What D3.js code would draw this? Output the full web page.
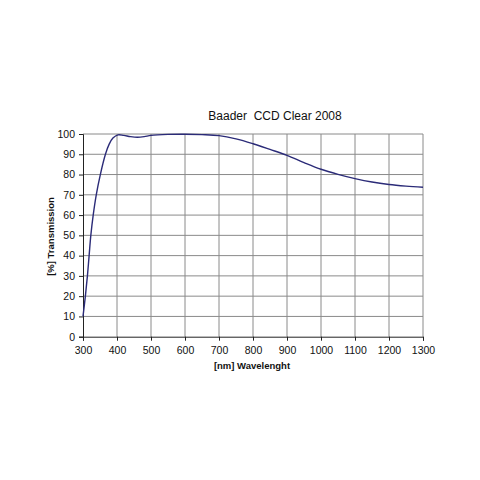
<!DOCTYPE html>
<html><head><meta charset="utf-8">
<script src="https://cdn.jsdelivr.net/npm/d3@7"></script>
<style>body{margin:0;background:#fff}svg{display:block}</style>
</head><body>
<script>
const wavelength = [300,307,313,318,323,330,339,351,366,377,388,403,420,440,460,480,500,550,600,650,700,750,800,850,900,950,1000,1050,1100,1150,1200,1250,1300];
const transmission = [10,20,30,40,50,60,70,80,90,95,98,99.6,99.3,98.7,98.4,98.7,99.3,99.8,99.9,99.7,99.2,97.6,95.2,92.4,89.5,85.9,82.6,80.1,78,76.3,75.1,74.3,73.7];
const xTicks = [300,400,500,600,700,800,900,1000,1100,1200,1300];
const yTicks = [0,10,20,30,40,50,60,70,80,90,100];
const title = "Baader  CCD Clear 2008";
const xLabel = "[nm] Wavelenght";
const yLabel = "[%] Transmission";

const W=480,H=480;
const svg=d3.select("body").append("svg").attr("width",W).attr("height",H);
svg.append("rect").attr("width",W).attr("height",H).attr("fill","#fff");
const x=d3.scaleLinear().domain([300,1300]).range([83,423]);
const y=d3.scaleLinear().domain([0,100]).range([336.7,134]);
const font="Arial, 'Liberation Sans', sans-serif";

// grid
svg.append("g").selectAll("line").data(yTicks.filter(d=>d>0)).join("line")
  .attr("x1",x(300)).attr("x2",x(1300)).attr("y1",d=>y(d)).attr("y2",d=>y(d))
  .attr("stroke","#8a8a8a").attr("stroke-width",1);
svg.append("g").selectAll("line").data(xTicks.filter(d=>d>300)).join("line")
  .attr("x1",d=>x(d)).attr("x2",d=>x(d)).attr("y1",y(0)).attr("y2",y(100))
  .attr("stroke","#8a8a8a").attr("stroke-width",1);

// axes
const xAxis=d3.axisBottom(x).tickValues(xTicks).tickSize(4).tickPadding(6).tickFormat(d3.format("d"));
const yAxis=d3.axisLeft(y).tickValues(yTicks).tickSize(4).tickPadding(4).tickFormat(d3.format("d"));
const gx=svg.append("g").attr("transform",`translate(0,${y(0)})`).call(xAxis);
const gy=svg.append("g").attr("transform",`translate(${x(300)},0)`).call(yAxis);
[gx,gy].forEach(g=>{
  g.select(".domain").attr("stroke","#222");
  g.selectAll(".tick line").attr("stroke","#222");
  g.selectAll("text").attr("font-family",font).attr("font-size",10.5).attr("fill","#111");
});

// curve
const data=wavelength.map((w,i)=>({w,t:transmission[i]}));
svg.append("path").datum(data)
  .attr("d",d3.line().x(d=>x(d.w)).y(d=>y(d.t)).curve(d3.curveCatmullRom.alpha(0.5)))
  .attr("fill","none").attr("stroke","#2b2b78").attr("stroke-width",1.4);

// labels
svg.append("text").attr("x",275).attr("y",120).attr("text-anchor","middle")
  .attr("font-family",font).attr("font-size",12).attr("fill","#111").attr("xml:space","preserve").text(title);
svg.append("text").attr("x",252).attr("y",369).attr("text-anchor","middle")
  .attr("font-family",font).attr("font-size",9.5).attr("font-weight","bold").attr("fill","#111").text(xLabel);
svg.append("text").attr("transform","translate(54,236.5) rotate(-90)").attr("text-anchor","middle")
  .attr("font-family",font).attr("font-size",9.5).attr("font-weight","bold").attr("fill","#111").text(yLabel);
</script>
</body></html>
